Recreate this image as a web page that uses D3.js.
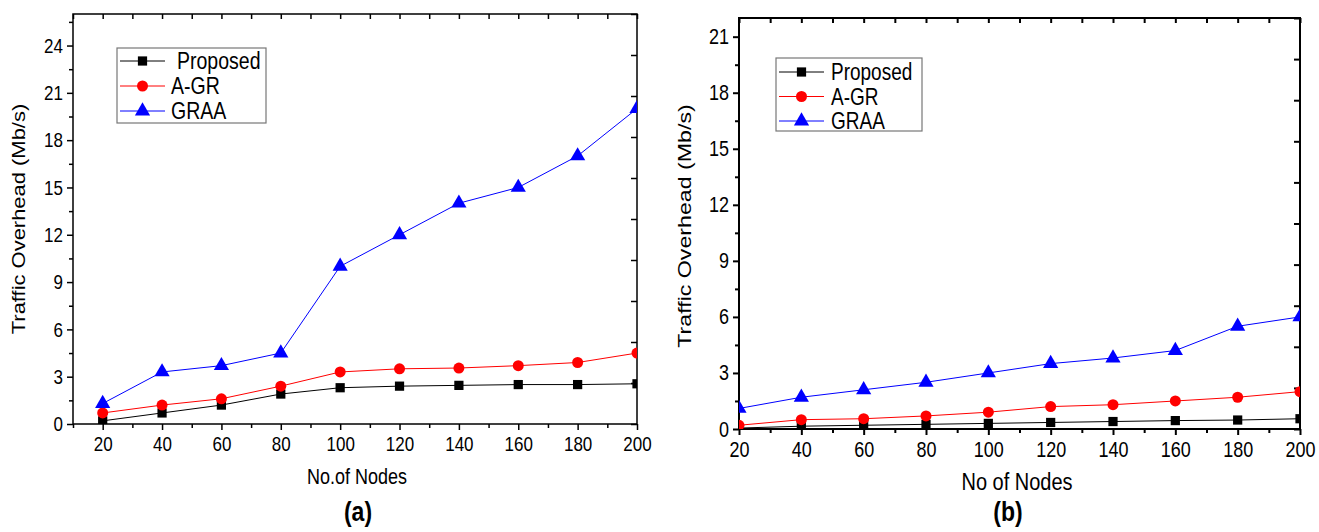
<!DOCTYPE html>
<html>
<head>
<meta charset="utf-8">
<script src="https://cdn.jsdelivr.net/npm/d3@7"></script>
<style>
  body { margin: 0; background: #fff; }
  svg { display: block; font-family: "Liberation Sans", Arial, sans-serif; }
</style>
</head>
<body>
<svg id="chart" width="1319" height="532"></svg>
<script>
// ---- data ----
const nodes = [20, 40, 60, 80, 100, 120, 140, 160, 180, 200];
const seriesNames = ["Proposed", "A-GR", "GRAA"];

const aProposed = [0.2, 0.7, 1.2, 1.9, 2.3, 2.4, 2.45, 2.5, 2.5, 2.55];
const aAGR      = [0.7, 1.2, 1.6, 2.4, 3.3, 3.5, 3.55, 3.7, 3.9, 4.5];
const aGRAA     = [1.3, 3.3, 3.7, 4.5, 10, 12, 14, 15, 17, 20];

const bProposed = [0.05, 0.15, 0.2, 0.25, 0.3, 0.35, 0.4, 0.45, 0.48, 0.55];
const bAGR      = [0.2, 0.5, 0.55, 0.7, 0.9, 1.2, 1.3, 1.5, 1.7, 2.0];
const bGRAA     = [1.1, 1.7, 2.1, 2.5, 3.0, 3.5, 3.8, 4.2, 5.5, 6.0];

const xTicks = [20, 40, 60, 80, 100, 120, 140, 160, 180, 200];
const aYTicks = [0, 3, 6, 9, 12, 15, 18, 21, 24];
const bYTicks = [0, 3, 6, 9, 12, 15, 18, 21];

const colors = ["#000000", "#ff0000", "#0000ff"];
const symbols = [d3.symbolSquare, d3.symbolCircle, d3.symbolTriangle];
const symSizes = [85, 95, 100];

const STRETCH = 1.22; // glyphs in the reference are vertically elongated

const svg = d3.select("#chart");

function stretchedText(parent, x, y, txt, size, opts = {}) {
  const t = parent.append("text")
    .attr("transform", `translate(${x},${y})${opts.rotate ? " rotate(-90) scale(" + STRETCH + ",1)" : " scale(1," + STRETCH + ")"}`)
    .attr("text-anchor", opts.anchor || "start")
    .style("font-size", size + "px")
    .text(txt);
  if (opts.bold) t.style("font-weight", "bold");
  if (opts.baseline) t.attr("dominant-baseline", opts.baseline);
  return t;
}

function panel(cfg) {
  const g = svg.append("g");
  const x = d3.scaleLinear().domain(cfg.xDomain).range([cfg.left, cfg.right]);
  const y = d3.scaleLinear().domain(cfg.yDomain).range([cfg.bottom, cfg.top]);
  const W = cfg.right - cfg.left, H = cfg.bottom - cfg.top;

  const clipId = "clip" + cfg.id;
  svg.append("clipPath").attr("id", clipId)
    .append("rect").attr("x", cfg.left).attr("y", cfg.top).attr("width", W).attr("height", H);

  const xMinor = d3.range(cfg.xDomain[0], cfg.xDomain[1] + 0.001, 10).filter(v => !xTicks.includes(v));
  const yMinor = d3.range(1.5, cfg.yDomain[1], 3);

  const bottomAx = g.append("g").attr("transform", `translate(0,${cfg.bottom})`)
    .call(d3.axisBottom(x).tickValues(xTicks).tickSize(6).tickPadding(cfg.xPad).tickFormat(d3.format("d")));
  const bottomMinor = g.append("g").attr("transform", `translate(0,${cfg.bottom})`)
    .call(d3.axisBottom(x).tickValues(xMinor).tickSize(4).tickFormat(""));
  const leftAx = g.append("g").attr("transform", `translate(${cfg.left},0)`)
    .call(d3.axisLeft(y).tickValues(cfg.yTicks).tickSize(6).tickPadding(4).tickFormat(d3.format("d")));
  const leftMinor = g.append("g").attr("transform", `translate(${cfg.left},0)`)
    .call(d3.axisLeft(y).tickValues(yMinor).tickSize(4).tickFormat(""));
  const topAx = g.append("g").attr("transform", `translate(0,${cfg.top})`)
    .call(d3.axisBottom(x).tickValues(xTicks.concat(xMinor)).tickSize(5).tickFormat(""));
  const rTicks = d3.range(0, 11).map(i => cfg.yDomain[1] * i / 10);
  const rightAx = g.append("g").attr("transform", `translate(${cfg.right},0)`)
    .call(d3.axisLeft(y).tickValues(rTicks).tickSize(6).tickFormat(""));

  [bottomAx, bottomMinor, leftAx, leftMinor, topAx, rightAx].forEach(a => {
    a.select(".domain").remove();
    a.selectAll(".tick line").attr("stroke", "#000").attr("stroke-width", cfg.axisW);
    a.selectAll(".tick text").attr("fill", "#000").style("font-size", cfg.tickFont + "px")
      .attr("transform", `scale(1,${STRETCH})`);
  });

  g.append("rect").attr("x", cfg.left).attr("y", cfg.top).attr("width", W).attr("height", H)
    .attr("fill", "none").attr("stroke", "#000").attr("stroke-width", cfg.axisW);

  const plot = g.append("g").attr("clip-path", `url(#${clipId})`);
  cfg.series.forEach((vals, i) => {
    const pts = nodes.map((n, k) => [n, vals[k]]);
    plot.append("path").datum(pts)
      .attr("fill", "none").attr("stroke", colors[i]).attr("stroke-width", 1)
      .attr("d", d3.line().x(d => x(d[0])).y(d => y(d[1])));
    plot.selectAll(null).data(pts).enter().append("path")
      .attr("transform", d => `translate(${x(d[0])},${y(d[1])})`)
      .attr("d", d3.symbol().type(symbols[i]).size(symSizes[i]))
      .attr("fill", colors[i]);
  });

  stretchedText(g, cfg.yTitleX, cfg.yTitleY, "Traffic Overhead (Mb/s)", cfg.titleFont,
    { rotate: true, anchor: "middle", baseline: "middle" });
  stretchedText(g, cfg.xTitleX, cfg.xTitleY, cfg.xTitle, cfg.xTitleFont, { anchor: "middle" });
  stretchedText(g, cfg.capX, cfg.capY, cfg.caption, 23, { anchor: "middle", bold: true });

  const L = cfg.legend;
  g.append("rect").attr("x", L.x).attr("y", L.y).attr("width", L.w).attr("height", L.h)
    .attr("fill", "#fff").attr("stroke", "#777").attr("stroke-width", 1.2);
  seriesNames.forEach((name, i) => {
    const yy = L.y + L.first + i * L.step;
    g.append("line").attr("x1", L.x + 3).attr("x2", L.x + 48).attr("y1", yy).attr("y2", yy)
      .attr("stroke", colors[i]).attr("stroke-width", 1);
    g.append("path").attr("transform", `translate(${L.x + 25.5},${yy})`)
      .attr("d", d3.symbol().type(symbols[i]).size(symSizes[i])).attr("fill", colors[i]);
    stretchedText(g, L.x + L.textDx + (i === 0 ? L.firstExtra : 0), yy, name, L.font,
      { baseline: "central" });
  });
}

panel({
  id: "a", left: 73, right: 637, top: 14, bottom: 424,
  xDomain: [10, 200], yDomain: [0, 26], yTicks: aYTicks,
  series: [aProposed, aAGR, aGRAA], axisW: 1.5, tickFont: 17, titleFont: 18, xTitleFont: 18, xPad: 4,
  yTitleX: 20, yTitleY: 219, xTitleX: 357, xTitleY: 484, xTitle: "No.of Nodes",
  capX: 358, capY: 521, caption: "(a)",
  legend: { x: 117, y: 48, w: 149, h: 75, first: 13, step: 25, textDx: 54, firstExtra: 6, font: 19.5 }
});

panel({
  id: "b", left: 739, right: 1300, top: 18, bottom: 429,
  xDomain: [20, 200], yDomain: [0, 22], yTicks: bYTicks,
  series: [bProposed, bAGR, bGRAA], axisW: 2, tickFont: 18, titleFont: 19, xTitleFont: 20, xPad: 4,
  yTitleX: 686, yTitleY: 226, xTitleX: 1017, xTitleY: 490, xTitle: "No of Nodes",
  capX: 1008, capY: 521, caption: "(b)",
  legend: { x: 776, y: 58, w: 146, h: 73, first: 14, step: 24.5, textDx: 55, firstExtra: 0, font: 19 }
});
</script>
</body>
</html>
